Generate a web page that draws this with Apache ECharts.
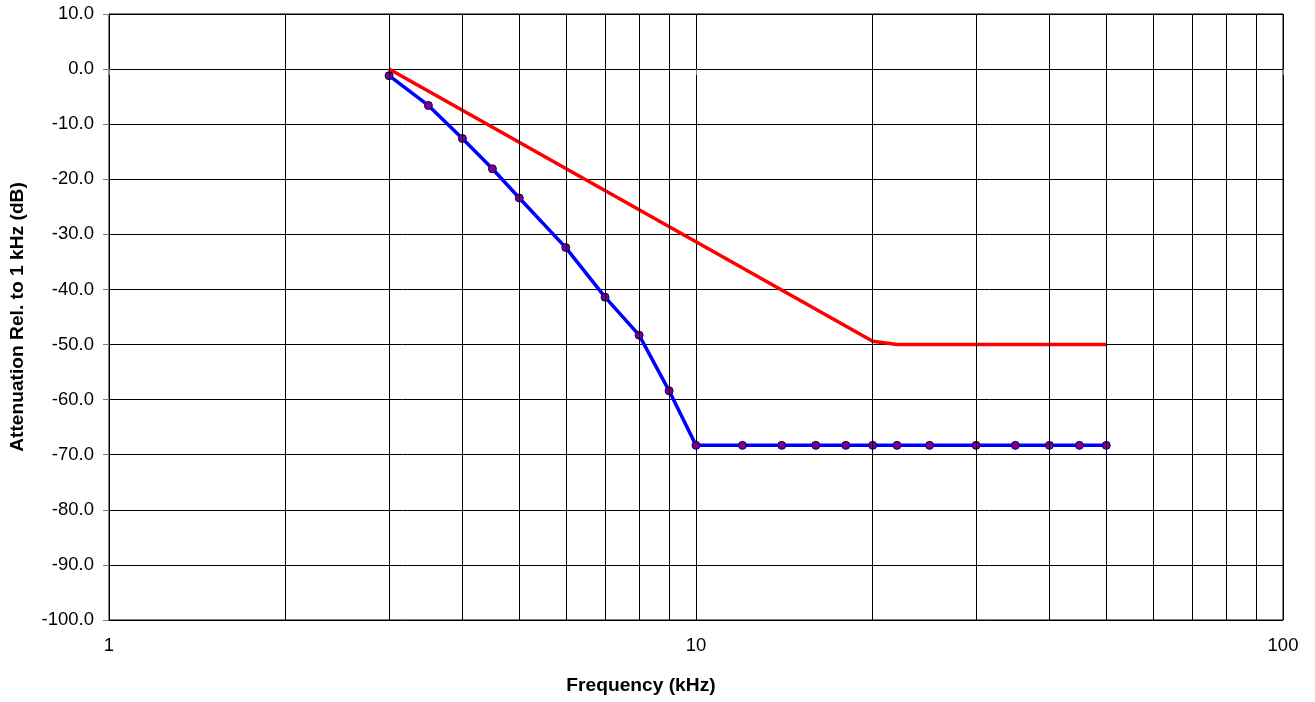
<!DOCTYPE html>
<html>
<head>
<meta charset="utf-8">
<script src="https://cdn.jsdelivr.net/npm/echarts@6/dist/echarts.min.js"></script>
<style>
html,body{margin:0;padding:0;background:#fff;}
#chart{width:1315px;height:702px;}
</style>
</head>
<body>
<div id="chart"></div>
<script>
// Measured response (blue)
var measuredFreq = [3, 3.5, 4, 4.5, 5, 6, 7, 8, 9, 10, 12, 14, 16, 18, 20, 22, 25, 30, 35, 40, 45, 50];
var measuredDb = [-1.2, -6.6, -12.6, -18.1, -23.4, -32.4, -41.4, -48.3, -58.4, -68.3, -68.3, -68.3, -68.3, -68.3, -68.3, -68.3, -68.3, -68.3, -68.3, -68.3, -68.3, -68.3];
// Limit mask (red)
var limitFreq = [3, 20, 22, 50];
var limitDb = [0, -49.4, -50, -50];
// Minor log grid lines
var minorGrid = [2, 3, 4, 5, 6, 7, 8, 9, 20, 30, 40, 50, 60, 70, 80, 90];

function pairs(xs, ys){ return xs.map(function(x,i){ return [x, ys[i]]; }); }

var chart = echarts.init(document.getElementById('chart'));
var font = 'Liberation Sans, Arial, sans-serif';
var fs = 18.5;
var tfs = 19.2;
chart.setOption({
  animation: false,
  backgroundColor: '#fff',
  grid: {left: 109, right: 32, top: 14, bottom: 82, show: true, borderColor: '#000', borderWidth: 1, backgroundColor: '#fff'},
  xAxis: {
    type: 'log', logBase: 10, min: 1, max: 100,
    name: 'Frequency (kHz)', nameLocation: 'middle', nameGap: 56,
    nameTextStyle: {fontFamily: font, fontSize: tfs, fontWeight: 'bold', color: '#000', padding: [0, 110, 0, 0]},
    axisLine: {show: true, lineStyle: {color: '#000', width: 1}},
    axisTick: {show: true, length: 6, lineStyle: {color: '#808080'}},
    axisLabel: {fontFamily: font, fontSize: fs, color: '#000', margin: 16},
    splitLine: {show: true, lineStyle: {color: '#000', width: 1}}
  },
  yAxis: {
    type: 'value', min: -100, max: 10, interval: 10,
    name: 'Attenuation Rel. to 1 kHz (dB)', nameLocation: 'middle', nameGap: 82, nameRotate: 90,
    nameTextStyle: {fontFamily: font, fontSize: tfs, fontWeight: 'bold', color: '#000'},
    axisLine: {show: true, lineStyle: {color: '#000', width: 1}},
    axisTick: {show: true, length: 6, lineStyle: {color: '#808080'}},
    axisLabel: {fontFamily: font, fontSize: fs, color: '#000', margin: 15, formatter: function(v){ return v.toFixed(1); }},
    splitLine: {show: true, lineStyle: {color: '#000', width: 1}}
  },
  series: [
    {
      type: 'line', data: [], silent: true,
      markLine: {
        silent: true, symbol: 'none', label: {show: false},
        lineStyle: {color: '#000', width: 1, type: 'solid'},
        data: minorGrid.map(function(v){ return {xAxis: v}; })
      }
    },
    {
      name: 'Limit', type: 'line', data: pairs(limitFreq, limitDb),
      showSymbol: false, symbol: 'none',
      lineStyle: {color: '#ff0000', width: 3.5}, z: 3
    },
    {
      name: 'Measured', type: 'line', data: pairs(measuredFreq, measuredDb),
      symbol: 'circle', symbolSize: 8,
      itemStyle: {color: '#800080', borderColor: '#000080', borderWidth: 1},
      lineStyle: {color: '#0000ff', width: 3.5}, z: 4
    }
  ]
});
</script>
</body>
</html>
